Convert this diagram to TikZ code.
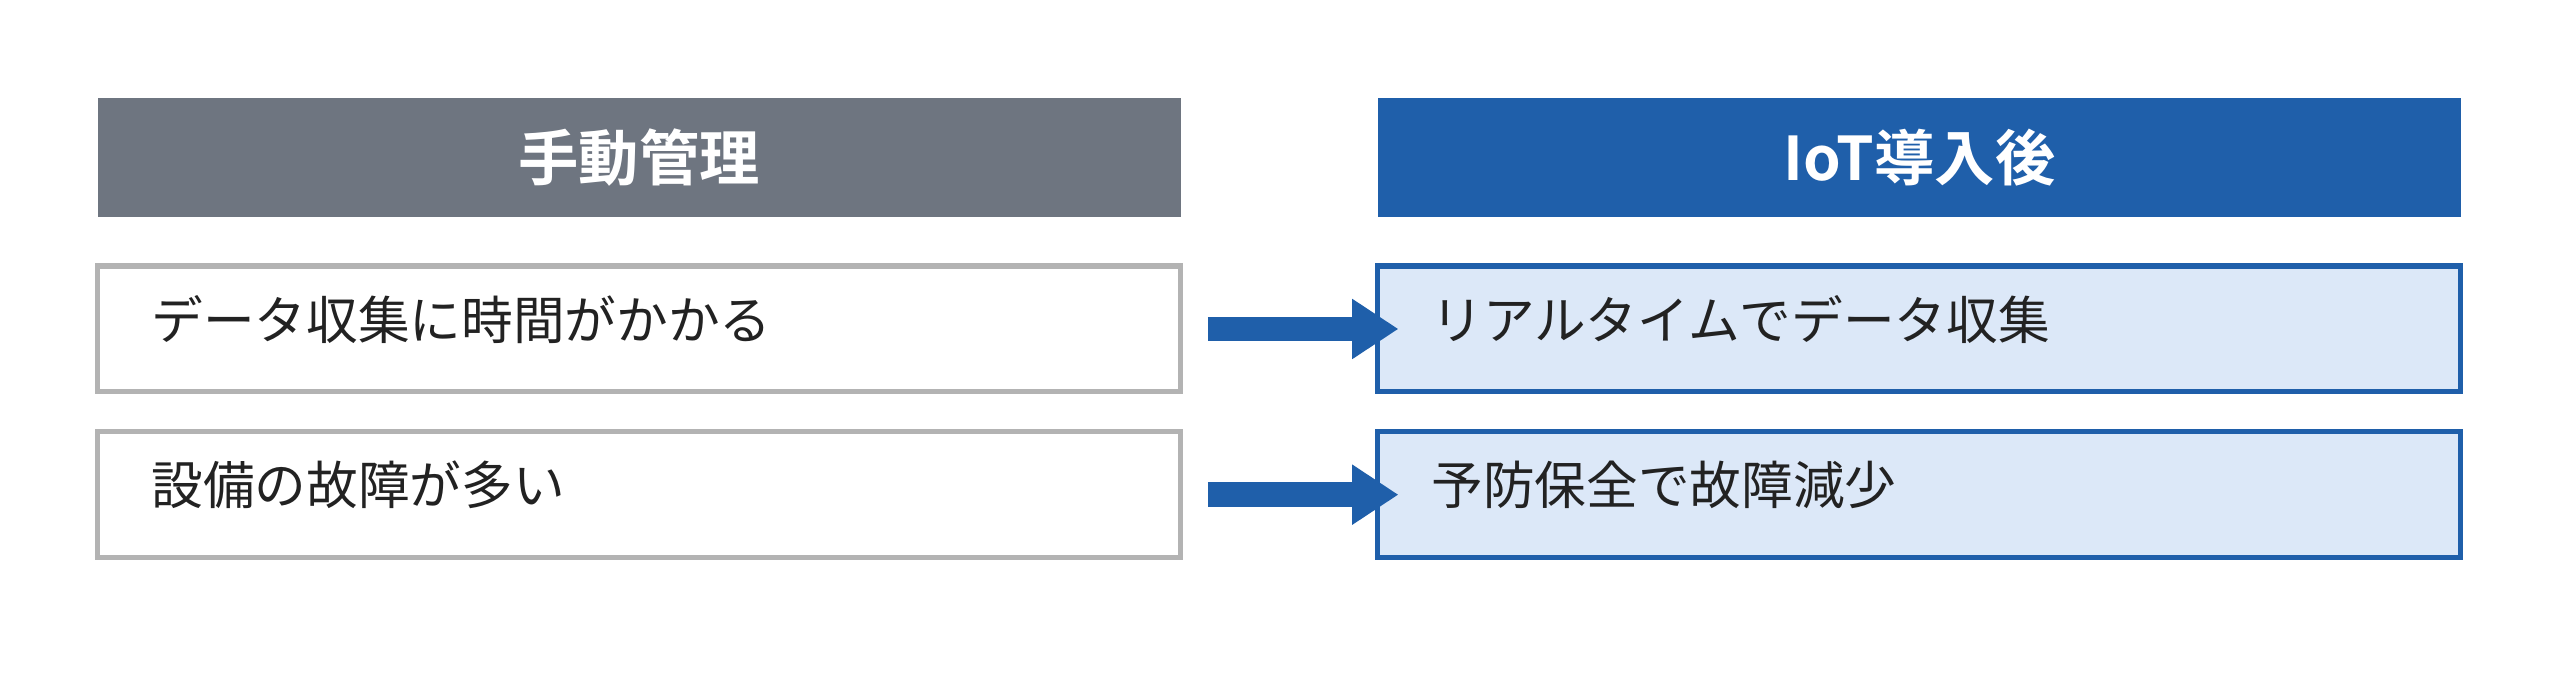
\documentclass[tikz,border=0pt]{standalone}
\usepackage{fontspec}
\setmainfont{Noto Sans CJK JP}[BoldFont={* Bold}]
\usepackage{tikz}
\definecolor{hdrgray}{HTML}{6E7580}
\definecolor{iotblue}{HTML}{1F5FAA}
\definecolor{iotlight}{HTML}{DCE8F8}
\definecolor{boxgray}{HTML}{B3B3B3}
\definecolor{txtdark}{HTML}{222222}
\tikzset{
  hdr/.style={minimum width=6.63cm,minimum height=0.73cm,inner sep=0pt,text=white,font=\fontsize{10.5}{12}\selectfont\bfseries},
  item/.style={minimum width=6.63cm,minimum height=0.77cm,inner sep=0pt,line width=0.9pt},
  itemtext/.style={anchor=west,inner sep=0pt,text=txtdark,font=\fontsize{9}{11}\selectfont},
}
\begin{document}
\begin{tikzpicture}[x=0.01cm,y=-0.01cm]
			\useasboundingbox (0,0) rectangle (1568,425.7);
			
			% Headers
			\node[hdr,fill=hdrgray] (hleft) at (391.5,96.5) {手動管理};
			\node[hdr,fill=iotblue] (hright) at (1175.5,96.5) {IoT導入後};
			
			% Boxes
			\node[item,draw=boxgray,fill=white] (l1) at (391.5,201.5) {};
			\node[item,draw=boxgray,fill=white] (l2) at (391.5,303) {};
			\node[item,draw=iotblue,fill=iotlight] (r1) at (1175.5,201.5) {};
			\node[item,draw=iotblue,fill=iotlight] (r2) at (1175.5,303) {};
			
			% Labels
			\node[itemtext] (tl1) at (92,196) {データ収集に時間がかかる};
			\node[itemtext] (tl2) at (92,297) {設備の故障が多い};
			\node[itemtext] (tr1) at (876,196) {リアルタイムでデータ収集};
			\node[itemtext] (tr2) at (876,297) {予防保全で故障減少};
			
			% Arrows
			\foreach \a/\b in {l1/r1,l2/r2}{
				\coordinate (s) at ([xshift=0.15cm]\a.east);
				\coordinate (e) at ([xshift=0.14cm]\b.west);
				\draw[iotblue,line width=0.15cm] (s) -- ([xshift=-0.2cm]e);
				\fill[iotblue] (e) -- ([xshift=-0.28cm,yshift=0.185cm]e) -- ([xshift=-0.28cm,yshift=-0.185cm]e) -- cycle;
			}
		\end{tikzpicture}
\end{document}
